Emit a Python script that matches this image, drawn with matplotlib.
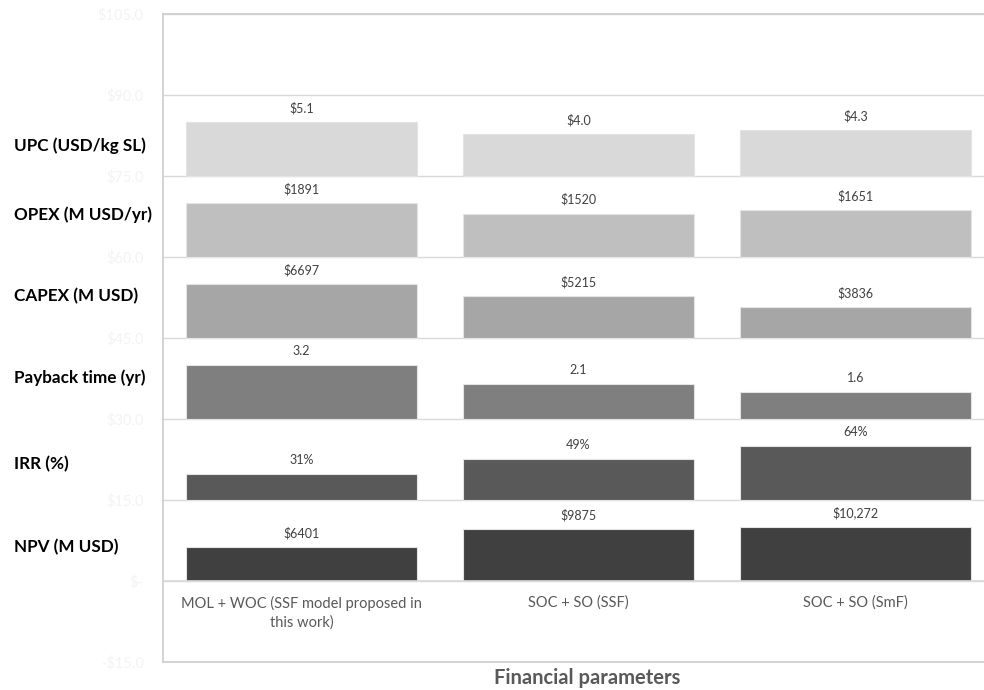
import numpy as np
import matplotlib.pyplot as plt
from matplotlib.transforms import blended_transform_factory

plt.rcParams['font.family'] = ['Lato', 'DejaVu Sans']

# categories along the x axis
scenarios = ['MOL + WOC (SSF model proposed in\nthis work)', 'SOC + SO (SSF)', 'SOC + SO (SmF)']

# one row per financial parameter, bottom to top
params = ['NPV (M USD)', 'IRR (%)', 'Payback time (yr)', 'CAPEX (M USD)', 'OPEX (M USD/yr)', 'UPC (USD/kg SL)']
npv = [6401, 9875, 10272]
irr = [31, 49, 64]
payback = [3.2, 2.1, 1.6]
capex = [6697, 5215, 3836]
opex = [1891, 1520, 1651]
upc = [5.1, 4.0, 4.3]

npv_lbl = ['$6401', '$9875', '$10,272']
irr_lbl = ['31%', '49%', '64%']
payback_lbl = ['3.2', '2.1', '1.6']
capex_lbl = ['$6697', '$5215', '$3836']
opex_lbl = ['$1891', '$1520', '$1651']
upc_lbl = ['$5.1', '$4.0', '$4.3']

yticks = [-15, 0, 15, 30, 45, 60, 75, 90, 105]
ytick_lbl = ['-$15.0', '$-', '$15.0', '$30.0', '$45.0', '$60.0', '$75.0', '$90.0', '$105.0']

rows = [npv, irr, payback, capex, opex, upc]
row_lbls = [npv_lbl, irr_lbl, payback_lbl, capex_lbl, opex_lbl, upc_lbl]
colors = ['#404040', '#595959', '#7f7f7f', '#a6a6a6', '#bfbfbf', '#d9d9d9']
band = 15.0
label_y = [6.3, 21.7, 37.6, 52.8, 67.8, 80.7]

fig = plt.figure(figsize=(9.84, 6.90), dpi=100)
ax = fig.add_axes([163 / 984, 1 - 662 / 690, 831 / 984, 648 / 690])
ax.set_xlim(-0.5, 2.5)
ax.set_ylim(-15, 105)

# x in figure fraction, y in data units
left_tr = blended_transform_factory(fig.transFigure, ax.transData)

x = np.arange(len(scenarios))
for i, (vals, lbls) in enumerate(zip(rows, row_lbls)):
    base = i * band
    h = 10.0 * np.array(vals, dtype=float) / max(vals)
    bars = ax.bar(x, h, bottom=base, width=0.834, color=colors[i],
                  edgecolor='#e4e4e4', linewidth=0.8, zorder=3)
    for b, t in zip(bars, lbls):
        ax.annotate(t, (b.get_x() + b.get_width() / 2, base + b.get_height()),
                    xytext=(0, 10), textcoords='offset points',
                    ha='center', va='center', fontsize=9, color='#404040')
    # row names in the left margin
    ax.text(14 / 984, label_y[i], params[i], transform=left_tr, ha='left',
            va='center', fontsize=12.3, fontweight='bold', color='black',
            clip_on=False)

ax.set_yticks(yticks)
ax.set_yticklabels(ytick_lbl, fontsize=10.5, color='#f3f3f3')
ax.tick_params(axis='y', length=0, pad=14)
ax.set_xticks([])
ax.grid(axis='y', color='#d9d9d9', linewidth=1.0, zorder=0)
ax.axhline(0, color='#d9d9d9', linewidth=1.2, zorder=4)
for s in ax.spines.values():
    s.set_color('#d0d0d0')
    s.set_linewidth(1.3)

for xi, name in zip(x, scenarios):
    ax.text(xi, -2.7, name, ha='center', va='top', fontsize=10.5,
            color='#595959', linespacing=1.45)

fig.text(587 / 984, 1 - 684 / 690, 'Financial parameters', ha='center', va='baseline',
         fontsize=14.5, fontweight='bold', color='#595959')

fig.savefig('out.png', dpi=100)
